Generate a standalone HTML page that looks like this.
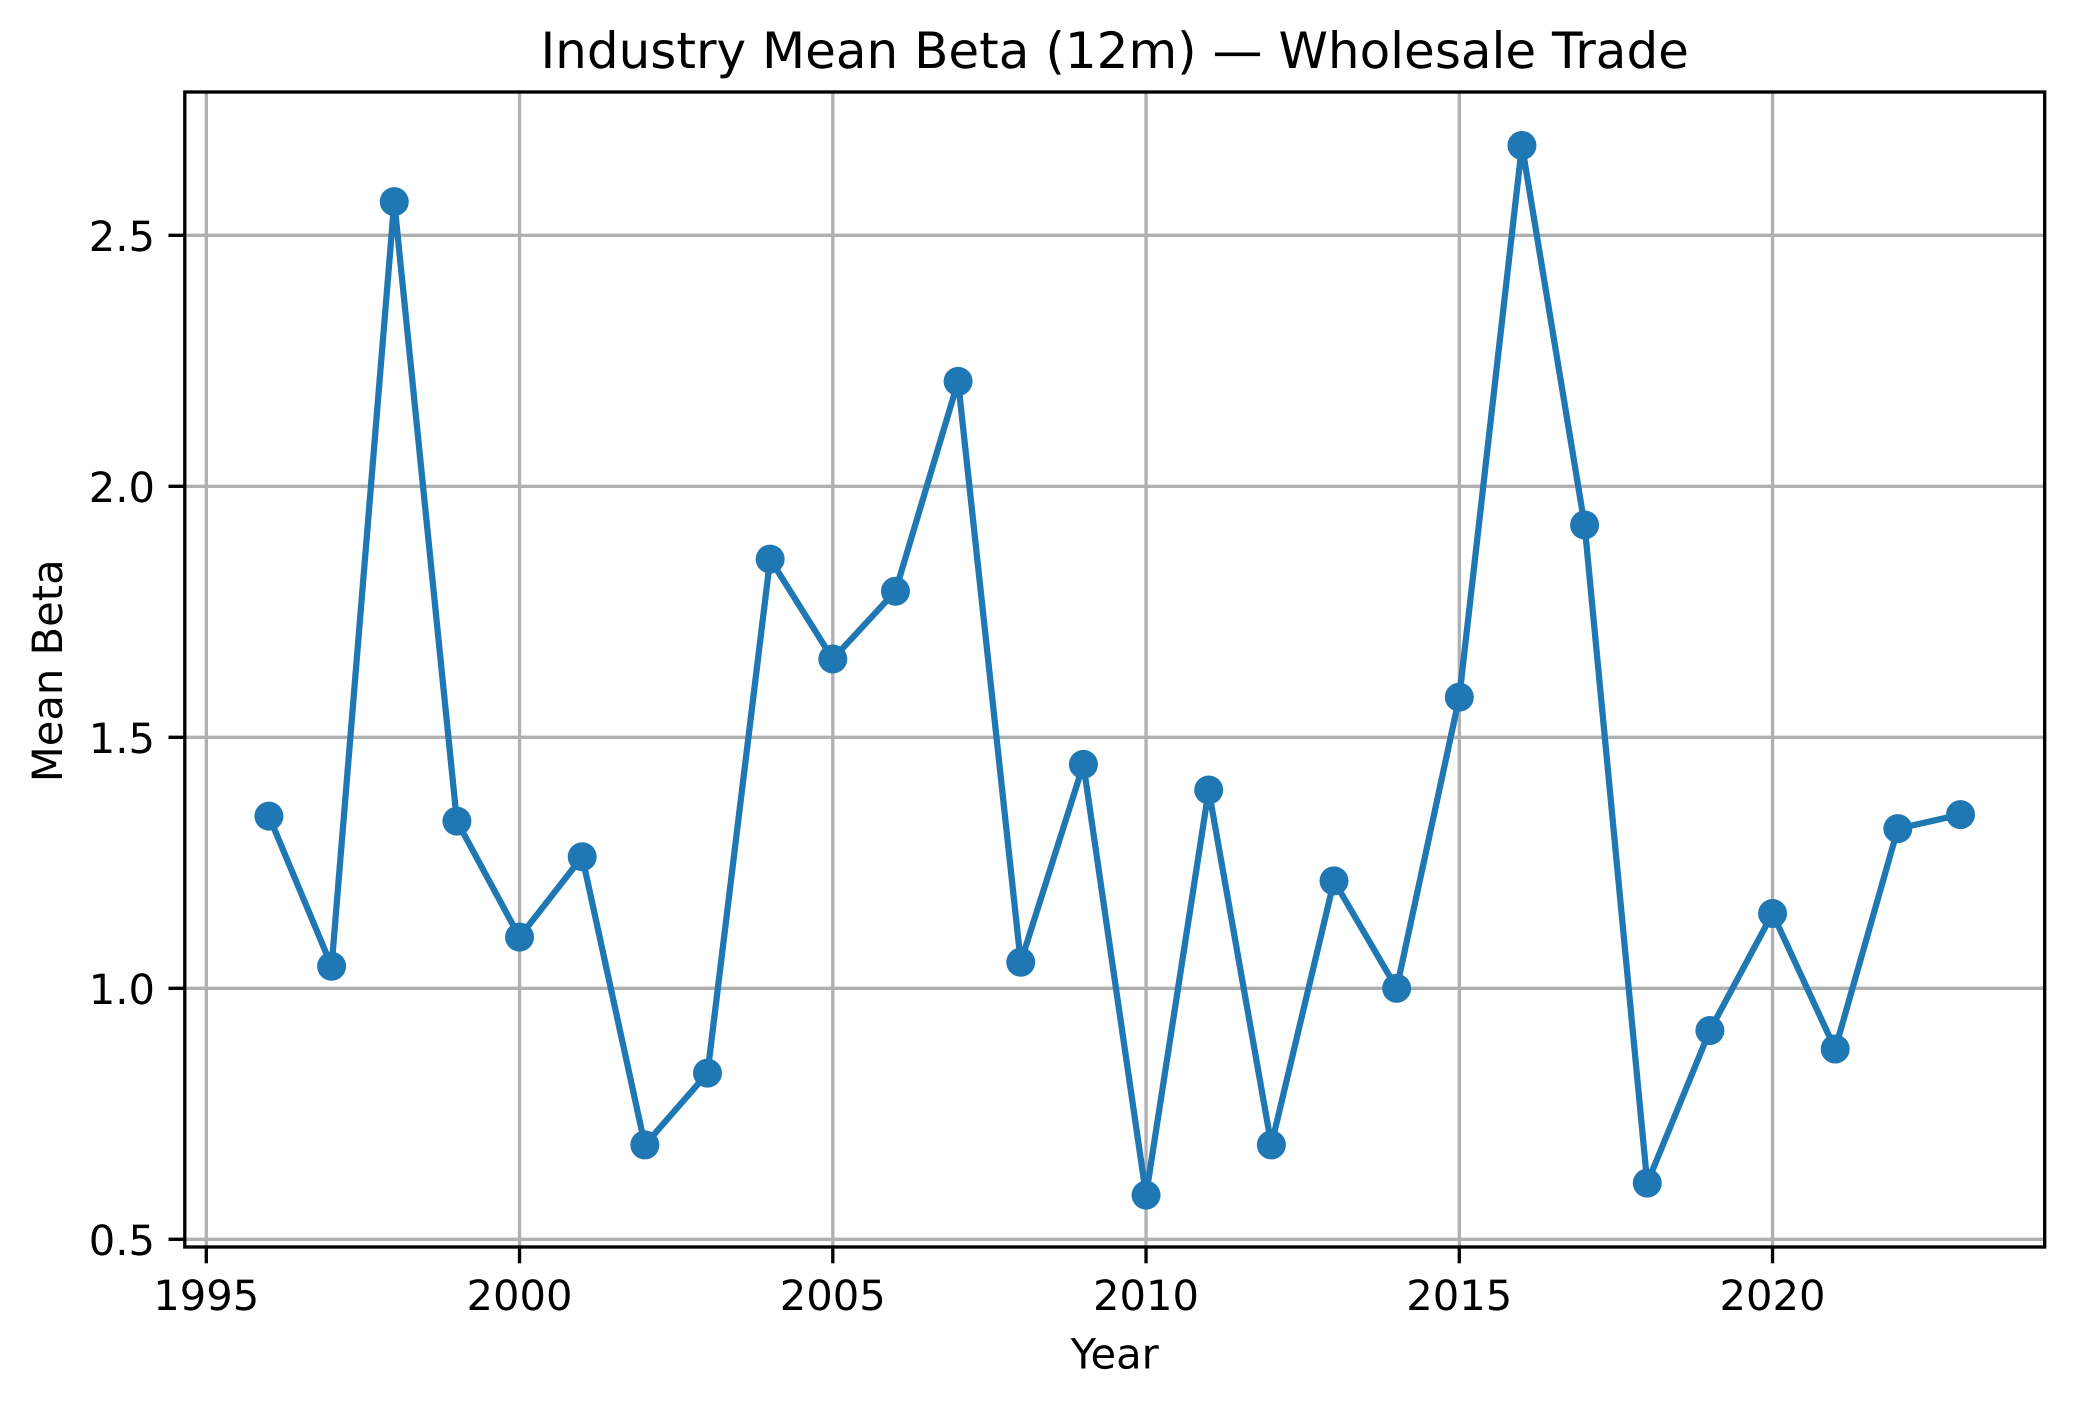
<!DOCTYPE html>
<html lang="en">
<head>
<meta charset="utf-8">
<title>Industry Mean Beta (12m) — Wholesale Trade</title>
<style>
html,body{margin:0;padding:0;background:#fff;width:2074px;height:1407px;overflow:hidden}
svg{display:block}
text{font-family:"DejaVu Sans","Liberation Sans",sans-serif;fill:#000;text-rendering:geometricPrecision}
</style>
</head>
<body>
<svg id="chart" xmlns="http://www.w3.org/2000/svg" width="2074" height="1407" viewBox="0 0 2074 1407">
<rect x="0" y="0" width="2074" height="1407" fill="#fff"/>
<g id="grid"></g>
<g id="series"></g>
<g id="ticks"></g>
<rect x="184.8" y="92" width="1859.9" height="1155" fill="none" stroke="#000" stroke-width="3.33" stroke-linejoin="miter"/>
<text x="1114.7" y="68" font-size="50" text-anchor="middle">Industry Mean Beta (12m) — Wholesale Trade</text>
<text x="1114.7" y="1368.5" font-size="41.67" text-anchor="middle">Year</text>
<text transform="translate(62,670.8) rotate(-90)" font-size="41.67" text-anchor="middle">Mean Beta</text>
</svg>
<script>
const years = [1996,1997,1998,1999,2000,2001,2002,2003,2004,2005,2006,2007,2008,2009,2010,2011,2012,2013,2014,2015,2016,2017,2018,2019,2020,2021,2022,2023];
const meanBeta = [1.343,1.044,2.567,1.333,1.102,1.262,0.688,0.831,1.855,1.656,1.791,2.209,1.052,1.446,0.588,1.395,0.688,1.214,1.0,1.58,2.679,1.923,0.612,0.916,1.149,0.879,1.318,1.346];
const xTickValues = [1995,2000,2005,2010,2015,2020];
const yTickValues = [0.5,1.0,1.5,2.0,2.5];

const NS = 'http://www.w3.org/2000/svg';
const plotLeft = 184.8, plotRight = 2044.7, plotTop = 92, plotBottom = 1247;
function xScale(v){ return 206.3 + (v - 1995) * 62.65; }
function yScale(v){ return 1239.3 - (v - 0.5) * 502; }
function make(tag, attrs, parent){
  const el = document.createElementNS(NS, tag);
  for (const k in attrs) el.setAttribute(k, attrs[k]);
  parent.appendChild(el);
  return el;
}
const gridG = document.getElementById('grid');
const ticksG = document.getElementById('ticks');
const seriesG = document.getElementById('series');

xTickValues.forEach(function(v){
  const x = xScale(v);
  const g = make('line', {x1:x, x2:x, y1:plotTop, y2:plotBottom, stroke:'#b0b0b0', 'stroke-width':3.33}, gridG);
  
  
  const t = make('line', {x1:x, x2:x, y1:plotBottom, y2:plotBottom + 16.3, stroke:'#000', 'stroke-width':3.33}, ticksG);
  
  
  const l = make('text', {x:x, y:1310, 'font-size':41.67, 'text-anchor':'middle'}, ticksG);
  l.textContent = String(v);
  
  
});
yTickValues.forEach(function(v){
  const y = yScale(v);
  const g = make('line', {x1:plotLeft, x2:plotRight, y1:y, y2:y, stroke:'#b0b0b0', 'stroke-width':3.33}, gridG);
  
  
  const t = make('line', {x1:plotLeft - 16.3, x2:plotLeft, y1:y, y2:y, stroke:'#000', 'stroke-width':3.33}, ticksG);
  
  
  const l = make('text', {x:155, y:y + 15.8, 'font-size':41.67, 'text-anchor':'end'}, ticksG);
  l.textContent = v.toFixed(1);
  
  
});

const linePath = make('path', {
  d: years.map(function(yr, i){ return (i ? 'L' : 'M') + xScale(yr).toFixed(2) + ' ' + yScale(meanBeta[i]).toFixed(2); }).join(' '),
  fill:'none', stroke:'#1f77b4', 'stroke-width':6.25, 'stroke-linejoin':'round', 'stroke-linecap':'butt'
}, seriesG);



years.forEach(function(yr, i){
  const c = make('circle', {cx:xScale(yr), cy:yScale(meanBeta[i]), r:14.5, fill:'#1f77b4'}, seriesG);
  
  
});
</script>
</body>
</html>
